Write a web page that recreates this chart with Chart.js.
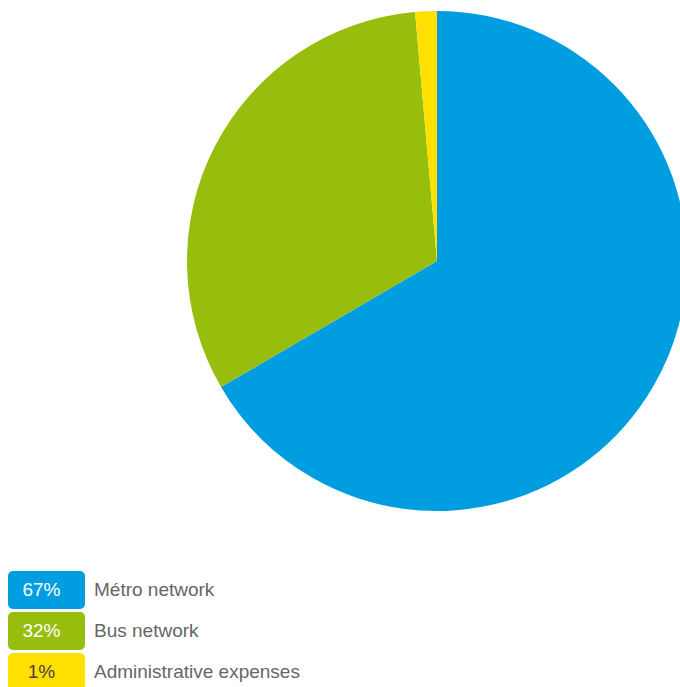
<!DOCTYPE html>
<html>
<head>
<meta charset="utf-8">
<script src="https://cdn.jsdelivr.net/npm/chart.js@4/dist/chart.umd.min.js"></script>
<style>
  html, body { margin: 0; padding: 0; width: 680px; height: 687px; overflow: hidden; background: #fff; font-family: "Liberation Sans", Arial, sans-serif; }
  #wrap { position: absolute; left: 0; top: 11px; width: 874px; height: 500px; }
  #legend { position: absolute; left: 8px; top: 571px; }
  .row { display: flex; align-items: center; height: 38px; margin-bottom: 3px; }
  .box { width: 67px; padding-right: 10px; height: 38px; border-radius: 5px; text-align: center; line-height: 38px; font-size: 19px; }
  .lab { margin-left: 9px; font-size: 19px; color: #666666; }
</style>
</head>
<body>
<div id="wrap"><canvas id="c" width="874" height="500"></canvas></div>
<div id="legend"></div>
<script>
const categories = ["Métro network", "Bus network", "Administrative expenses"];
const values = [66.6, 32.0, 1.4];
const percentLabels = ["67%", "32%", "1%"];
const colors = ["#009EE0", "#97BD0D", "#FFE000"];
const labelTextColors = ["#ffffff", "#ffffff", "#444444"];

new Chart(document.getElementById('c'), {
  type: 'pie',
  data: {
    labels: categories,
    datasets: [{ data: values, backgroundColor: colors, borderWidth: 0 }]
  },
  options: {
    responsive: false,
    animation: false,
    layout: { padding: 0 },
    plugins: { legend: { display: false }, tooltip: { enabled: false } }
  }
});

const leg = document.getElementById('legend');
categories.forEach((c, i) => {
  const row = document.createElement('div');
  row.className = 'row';
  const b = document.createElement('div');
  b.className = 'box';
  b.style.background = colors[i];
  b.style.color = labelTextColors[i];
  b.textContent = percentLabels[i];
  const l = document.createElement('div');
  l.className = 'lab';
  l.textContent = c;
  row.appendChild(b); row.appendChild(l);
  leg.appendChild(row);
});
</script>
</body>
</html>
